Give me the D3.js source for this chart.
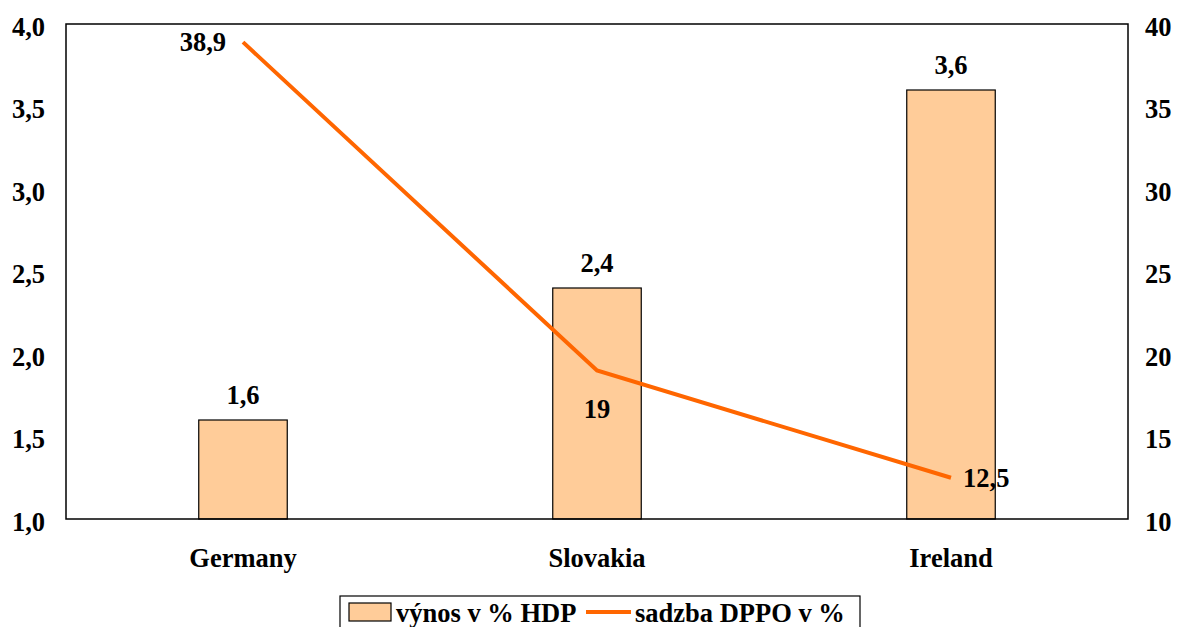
<!DOCTYPE html>
<html>
<head>
<meta charset="utf-8">
<script src="https://cdn.jsdelivr.net/npm/d3@7"></script>
<style>
  html, body { margin: 0; padding: 0; background: #fff; }
  svg { display: block; }
  svg text { font-family: "Liberation Serif", "Times New Roman", serif; font-weight: bold; fill: #000; }
</style>
</head>
<body>
<svg id="chart" width="1184" height="627"></svg>
<script>
// Data
const countries = ["Germany", "Slovakia", "Ireland"];
const revenueGdp = [1.6, 2.4, 3.6];      // výnos v % HDP (bars, left axis)
const taxRate = [38.9, 19, 12.5];        // sadzba DPPO v % (line, right axis)
const leftTicks = [1.0, 1.5, 2.0, 2.5, 3.0, 3.5, 4.0];
const rightTicks = [10, 15, 20, 25, 30, 35, 40];
const legendLabels = ["výnos v % HDP", "sadzba DPPO v %"];

const plot = { left: 66, top: 24, right: 1128, bottom: 519 };
const FS = 26.5;
const svg = d3.select("#chart");

const locale = d3.formatLocale({ decimal: ",", thousands: " ", grouping: [3], currency: ["", ""] });
const fmt1 = locale.format(".1f");
const fmtAuto = v => String(v).replace(".", ",");

const x = d3.scaleBand().domain(countries).range([plot.left, plot.right]).paddingInner(0).paddingOuter(0);
const yL = d3.scaleLinear().domain([1, 4]).range([plot.bottom, plot.top]);
const yR = d3.scaleLinear().domain([10, 40]).range([plot.bottom, plot.top]);
const barW = x.bandwidth() * 0.25;
const cx = d => x(d) + x.bandwidth() / 2;

// Bars
svg.append("g").selectAll("rect").data(countries).join("rect")
  .attr("x", d => cx(d) - barW / 2)
  .attr("y", (d, i) => yL(revenueGdp[i]))
  .attr("width", barW)
  .attr("height", (d, i) => yL(1) - yL(revenueGdp[i]))
  .attr("fill", "#FFCC99")
  .attr("stroke", "#000")
  .attr("stroke-width", 1.2);

// Bar value labels
svg.append("g").selectAll("text").data(countries).join("text")
  .attr("x", d => cx(d))
  .attr("y", (d, i) => yL(revenueGdp[i]) - 16)
  .attr("text-anchor", "middle")
  .attr("font-size", FS)
  .text((d, i) => fmt1(revenueGdp[i]));

// Plot frame
svg.append("rect")
  .attr("x", plot.left).attr("y", plot.top)
  .attr("width", plot.right - plot.left).attr("height", plot.bottom - plot.top)
  .attr("fill", "none").attr("stroke", "#000").attr("stroke-width", 1.5);

// Line
const line = d3.line()
  .x(d => cx(d))
  .y((d, i) => yR(taxRate[i]));
svg.append("path")
  .datum(countries)
  .attr("d", line)
  .attr("fill", "none")
  .attr("stroke", "#FF6600")
  .attr("stroke-width", 4);

// Line value labels: left of first point, below the second, right of the third
const placements = [
  { dx: -17, dy: 9, anchor: "end" },
  { dx: 0, dy: 47, anchor: "middle" },
  { dx: 12, dy: 9, anchor: "start" }
];
svg.append("g").selectAll("text").data(countries).join("text")
  .attr("x", (d, i) => cx(d) + placements[i].dx)
  .attr("y", (d, i) => yR(taxRate[i]) + placements[i].dy)
  .attr("text-anchor", (d, i) => placements[i].anchor)
  .attr("font-size", FS)
  .text((d, i) => fmtAuto(taxRate[i]));

function styleAxis(g, dy) {
  g.attr("font-family", null).attr("font-size", null);
  g.select(".domain").remove();
  g.selectAll("text").attr("font-size", FS).attr("fill", "#000");
  if (dy) g.selectAll("text").attr("dy", dy);
}

// Left axis
svg.append("g")
  .attr("transform", `translate(${plot.left},0)`)
  .call(d3.axisLeft(yL).tickValues(leftTicks).tickSize(0).tickPadding(21).tickFormat(fmt1))
  .call(g => styleAxis(g, "0.42em"));

// Right axis
svg.append("g")
  .attr("transform", `translate(${plot.right},0)`)
  .call(d3.axisRight(yR).tickValues(rightTicks).tickSize(0).tickPadding(17).tickFormat(d => d))
  .call(g => styleAxis(g, "0.42em"));

// Category axis
svg.append("g")
  .attr("transform", `translate(0,${plot.bottom})`)
  .call(d3.axisBottom(x).tickSize(0).tickPadding(29))
  .call(g => styleAxis(g, null));

// Legend
const lg = svg.append("g");
lg.append("rect")
  .attr("x", 340).attr("y", 596).attr("width", 520).attr("height", 40)
  .attr("fill", "#fff").attr("stroke", "#000").attr("stroke-width", 1.2);
lg.append("rect")
  .attr("x", 349).attr("y", 603).attr("width", 42).attr("height", 18)
  .attr("fill", "#FFCC99").attr("stroke", "#000").attr("stroke-width", 1.2);
lg.append("text").attr("x", 396).attr("y", 622).attr("font-size", FS).text(legendLabels[0]);
lg.append("line")
  .attr("x1", 586).attr("x2", 631).attr("y1", 612).attr("y2", 612)
  .attr("stroke", "#FF6600").attr("stroke-width", 4);
lg.append("text").attr("x", 635).attr("y", 622).attr("font-size", FS).text(legendLabels[1]);
</script>
</body>
</html>
